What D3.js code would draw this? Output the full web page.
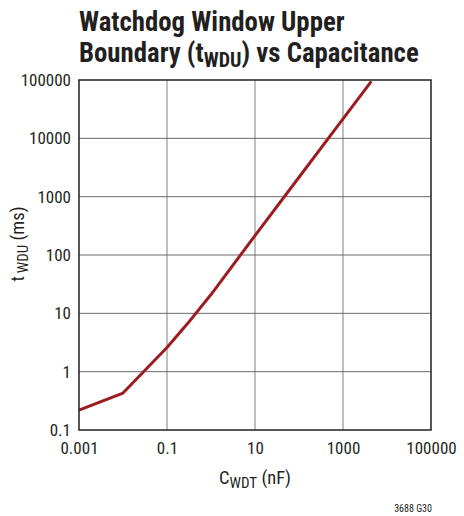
<!DOCTYPE html>
<html><head><meta charset="utf-8">
<script src="https://cdn.jsdelivr.net/npm/d3@7"></script>
<style>
body{margin:0;background:#fff;}
svg text{font-family:"Liberation Sans Narrow","Roboto Condensed","DejaVu Sans Condensed",Arial,sans-serif;}
</style></head>
<body>
<svg id="c" width="464" height="516"></svg>
<script>
const capacitance = [0.001, 0.01, 0.1, 0.3, 1, 10, 100, 1000, 4400];
const tWDU = [0.22, 0.43, 2.6, 6.8, 21, 215, 2150, 21500, 95000];
const xTicks = [0.001, 0.1, 10, 1000, 100000];
const xTickLabels = ["0.001", "0.1", "10", "1000", "100000"];
const yTicks = [0.1, 1, 10, 100, 1000, 10000, 100000];
const yTickLabels = ["0.1", "1", "10", "100", "1000", "10000", "100000"];

const svg = d3.select("#c");
const L = 79, R = 431, T = 80, B = 430;
const x = d3.scaleLog().domain([0.001, 100000]).range([L, R]);
const y = d3.scaleLog().domain([0.1, 100000]).range([B, T]);

// title
const title = svg.append("text").attr("x", 79).attr("y", 31)
  .style("font-size", "26.8px").style("font-weight", "bold").attr("fill", "#231f20");
title.text("Watchdog Window Upper");
const t2 = svg.append("text").attr("x", 79).attr("y", 62)
  .style("font-size", "26.8px").style("font-weight", "bold").attr("fill", "#231f20");
t2.append("tspan").text("Boundary (t");
t2.append("tspan").attr("dy", 5).style("font-size", "20px").text("WDU");
t2.append("tspan").attr("dy", -5).text(") vs Capacitance");

// grid
svg.append("g").selectAll("line").data(xTicks.slice(1, -1)).join("line")
  .attr("x1", d => x(d)).attr("x2", d => x(d)).attr("y1", T).attr("y2", B)
  .attr("stroke", "#808080").attr("stroke-width", 1);
svg.append("g").selectAll("line").data(yTicks.slice(1, -1)).join("line")
  .attr("y1", d => y(d)).attr("y2", d => y(d)).attr("x1", L).attr("x2", R)
  .attr("stroke", "#6a6a6a").attr("stroke-width", 1);

// curve
const line = d3.line().x((d, i) => x(capacitance[i])).y(d => y(d));
svg.append("path").datum(tWDU).attr("d", line)
  .attr("fill", "none").attr("stroke", "#9d1c20").attr("stroke-width", 3)
  .attr("stroke-linejoin", "round");

// frame
svg.append("rect").attr("x", L).attr("y", T).attr("width", R - L).attr("height", B - T)
  .attr("fill", "none").attr("stroke", "#231f20").attr("stroke-width", 1.5);

// axes
const xAxis = d3.axisBottom(x).tickValues(xTicks).tickSize(0).tickPadding(8)
  .tickFormat((d, i) => xTickLabels[i]);
const gx = svg.append("g").attr("transform", `translate(0,${B})`).call(xAxis);
gx.select(".domain").remove();
gx.selectAll("text").style("font-size", "17px").attr("fill", "#231f20").attr("dy", "0.71em").attr("y", 12);

const yAxis = d3.axisLeft(y).tickValues(yTicks).tickSize(0).tickPadding(8)
  .tickFormat((d, i) => yTickLabels[i]);
const gy = svg.append("g").attr("transform", `translate(${L},0)`).call(yAxis);
gy.select(".domain").remove();
gy.selectAll("text").style("font-size", "17px").attr("fill", "#231f20");

// axis labels
const xl = svg.append("text").attr("x", 255).attr("y", 484).attr("text-anchor", "middle")
  .style("font-size", "18.5px").attr("fill", "#231f20");
xl.append("tspan").text("C");
xl.append("tspan").attr("dy", 4).style("font-size", "15px").text("WDT");
xl.append("tspan").attr("dy", -4).text(" (nF)");

const yl = svg.append("text").attr("transform", "translate(24,244) rotate(-90)")
  .attr("text-anchor", "middle").style("font-size", "18.5px").attr("fill", "#231f20");
yl.append("tspan").text("t");
yl.append("tspan").attr("dy", 4).attr("dx", 3).style("font-size", "15px").text("WDU");
yl.append("tspan").attr("dy", -4).text(" (ms)");

svg.append("text").attr("x", 432).attr("y", 512).attr("text-anchor", "end")
  .style("font-size", "10px").attr("fill", "#231f20").text("3688 G30");
</script>
</body></html>
